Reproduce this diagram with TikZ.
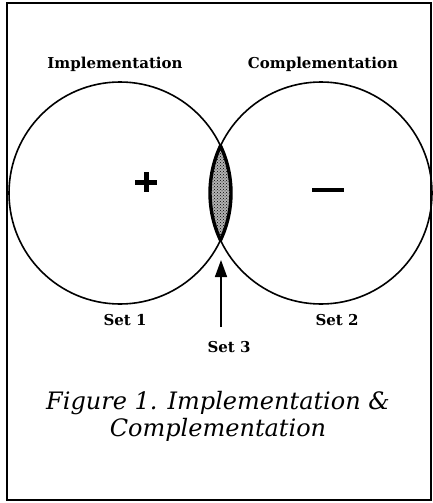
\documentclass[tikz,border=0pt]{standalone}
\usepackage{fontspec}
\setmainfont{DejaVu Serif}
\usetikzlibrary{patterns,arrows.meta}

\begin{document}
\begin{tikzpicture}[x=1pt,y=-1pt,line width=1.6pt,
    setlabel/.style={font=\bfseries\fontsize{15}{17}\selectfont, anchor=base, inner sep=0pt},
    caption/.style={font=\itshape\fontsize{24}{27}\selectfont, align=center, anchor=base, inner sep=0pt}]
    \useasboundingbox (0,0) rectangle (432,503);
    \def \radius {111}
    % frame
    \draw[line width=1.8pt] (7,3) rectangle (431,500);

    % the two sets
    \coordinate (o1) at (120,193);
    \coordinate (o2) at (321,193);
    \begin{scope}
        \clip (o1) circle[radius=\radius];
        \fill[black!30] (o2) circle[radius=\radius];
        \fill[pattern=crosshatch dots, pattern color=black] (o2) circle[radius=\radius];
        \draw[line width=3.4pt] (o2) circle[radius=\radius];
    \end{scope}
    \begin{scope}
        \clip (o2) circle[radius=\radius];
        \draw[line width=3.4pt] (o1) circle[radius=\radius];
    \end{scope}
    \foreach \c in {o1,o2}
        \draw (\c) circle[radius=\radius];

    % signs
    \draw[line width=5pt] (135,182) -- (157,182) (146,172) -- (146,192);
    \draw[line width=4.5pt] (312,190) -- (344,190);

    % labels
    \node[setlabel] (impl) at (115,69) {Implementation};
    \node[setlabel] (compl) at (323,69) {Complementation};
    \node[setlabel] (set1) at (125,325) {Set 1};
    \node[setlabel] (set2) at (337,325) {Set 2};
    \node[setlabel] (set3) at (229,352) {Set 3};

    % arrow to the overlap
    \coordinate (tail) at (221,327);
    \coordinate (tip) at (221,260);
    \draw[-{Triangle[length=17pt,width=12pt]}] (tail) -- (tip);

    \node[caption] (cap) at (218,436) {Figure 1. Implementation \&\\Complementation};
\end{tikzpicture}
\end{document}
